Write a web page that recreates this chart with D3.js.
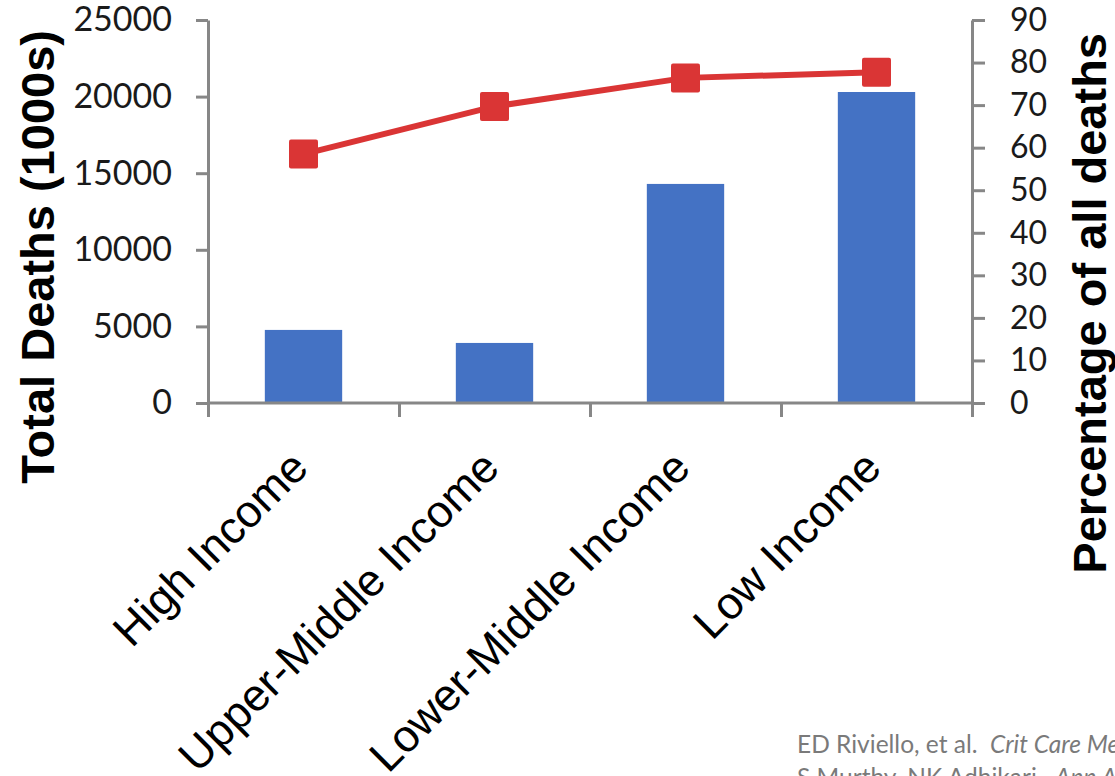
<!DOCTYPE html>
<html>
<head>
<meta charset="utf-8">
<script src="https://cdn.jsdelivr.net/npm/d3@7"></script>
<style>
  html, body { margin: 0; padding: 0; background: #ffffff; }
  svg { display: block; }
</style>
</head>
<body>
<div id="chart"></div>
<script>
// ---- data ----
const categories = ["High Income", "Upper-Middle Income", "Lower-Middle Income", "Low Income"];
const totalDeaths = [4770, 3920, 14300, 20300];          // thousands (bars, left axis)
const percentAllDeaths = [58.5, 69.7, 76.4, 77.7];      // % (line, right axis)
const leftTicks = [0, 5000, 10000, 15000, 20000, 25000];
const rightTicks = [0, 10, 20, 30, 40, 50, 60, 70, 80, 90];
const leftTitle = "Total Deaths (1000s)";
const rightTitle = "Percentage of all deaths";
const citation1 = ["ED Riviello, et al.  ", "Crit Care Med 2011"];
const citation2 = ["S Murthy, NK Adhikari.  ", "Ann Am Thorac Soc 2013"];

// ---- layout ----
const W = 1115, H = 776;
const plot = { left: 208, right: 972, top: 20, bottom: 403 };
const axisColor = "#878787";
const barColor = "#4472C4";
const lineColor = "#DA3535";

const svg = d3.select("#chart").append("svg")
  .attr("width", W).attr("height", H);

const x = d3.scaleBand().domain(categories).range([plot.left, plot.right]).padding(0);
const xIdx = d3.scaleLinear().domain([0, categories.length]).range([plot.left, plot.right]);
const yL = d3.scaleLinear().domain([0, 25000]).range([plot.bottom, plot.top]);
const yR = d3.scaleLinear().domain([0, 90]).range([plot.bottom, plot.top]);

const barW = x.bandwidth() * 0.405;

// bars
svg.append("g").selectAll("rect").data(categories).join("rect")
  .attr("x", (d) => x(d) + x.bandwidth() / 2 - barW / 2)
  .attr("y", (d, i) => yL(totalDeaths[i]))
  .attr("width", barW)
  .attr("height", (d, i) => yL(0) - yL(totalDeaths[i]))
  .attr("fill", barColor);

// axes
function styleAxis(g) {
  g.select(".domain").attr("stroke", axisColor).attr("stroke-width", 3);
  g.selectAll(".tick line").attr("stroke", axisColor).attr("stroke-width", 3);
  g.selectAll(".tick text").attr("fill", "#1a1a1a");
}

const gL = svg.append("g").attr("transform", `translate(${plot.left},0)`)
  .call(d3.axisLeft(yL).tickValues(leftTicks).tickSize(12).tickSizeOuter(0).tickPadding(24).tickFormat(d3.format("d")));
gL.call(styleAxis);
gL.selectAll(".tick text").style("font-family", "Lato, 'Open Sans', sans-serif").style("font-size", "34px");

const gR = svg.append("g").attr("transform", `translate(${plot.right},0)`)
  .call(d3.axisRight(yR).tickValues(rightTicks).tickSize(13).tickSizeOuter(0).tickPadding(25).tickFormat(d3.format("d")));
gR.call(styleAxis);
gR.selectAll(".tick text").style("font-family", "Lato, 'Open Sans', sans-serif").style("font-size", "32px");

const gB = svg.append("g").attr("transform", `translate(0,${plot.bottom})`)
  .call(d3.axisBottom(xIdx).tickValues(d3.range(categories.length + 1)).tickSize(14).tickSizeOuter(0).tickFormat(""));
gB.call(styleAxis);
gB.select(".domain").attr("d", `M${plot.left - 1},0H${plot.right + 1}`);

// category labels
svg.append("g").selectAll("text").data(categories).join("text")
  .attr("transform", (d) => `translate(${x(d) + x.bandwidth() / 2 + 7},${plot.bottom + 67}) rotate(-45)`)
  .attr("text-anchor", "end")
  .style("font-family", "'Liberation Sans', Arial, sans-serif")
  .style("font-size", "45px")
  .attr("fill", "#000")
  .text((d) => d);

// line
const line = d3.line()
  .x((d, i) => x(categories[i]) + x.bandwidth() / 2)
  .y((d) => yR(d));
svg.append("path").datum(percentAllDeaths)
  .attr("d", line)
  .attr("fill", "none")
  .attr("stroke", lineColor)
  .attr("stroke-width", 6);

const mk = 29;
svg.append("g").selectAll("rect").data(percentAllDeaths).join("rect")
  .attr("x", (d, i) => x(categories[i]) + x.bandwidth() / 2 - mk / 2)
  .attr("y", (d) => yR(d) - mk / 2)
  .attr("width", mk).attr("height", mk)
  .attr("rx", 2)
  .attr("fill", lineColor);

// axis titles
svg.append("text")
  .attr("transform", `translate(54,30) rotate(-90)`)
  .attr("text-anchor", "end")
  .style("font-family", "'Liberation Sans', Arial, sans-serif")
  .style("font-weight", "bold")
  .style("font-size", "47px")
  .text(leftTitle);

svg.append("text")
  .attr("transform", `translate(1106,33) rotate(-90)`)
  .attr("text-anchor", "end")
  .style("font-family", "'Liberation Sans', Arial, sans-serif")
  .style("font-weight", "bold")
  .style("font-size", "47px")
  .text(rightTitle);

// citation
function cite(parts, y) {
  const t = svg.append("text").attr("x", 797).attr("y", y)
    .style("font-family", "Lato, 'Open Sans', sans-serif")
    .style("font-size", "24.5px")
    .attr("fill", "#7a7a7a")
    .attr("xml:space", "preserve");
  t.append("tspan").text(parts[0]);
  t.append("tspan").style("font-style", "italic").text(parts[1]);
}
cite(citation1, 753);
cite(citation2, 786);
</script>
</body>
</html>
